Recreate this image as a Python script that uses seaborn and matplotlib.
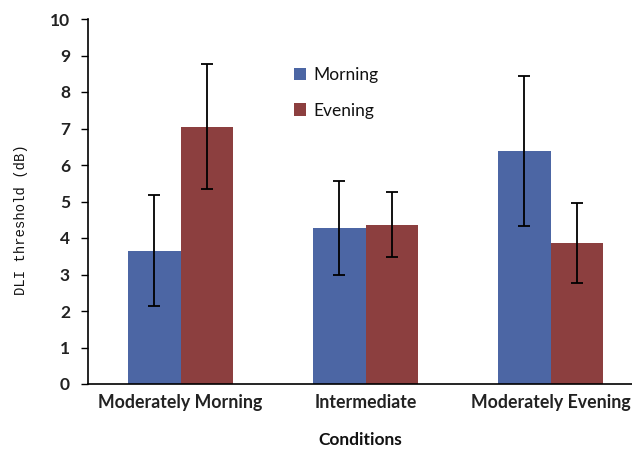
import numpy as np
import pandas as pd
import matplotlib
matplotlib.use("Agg")
import matplotlib.pyplot as plt
import seaborn as sns

# values
conditions = ["Moderately Morning", "Intermediate", "Moderately Evening"]
morning = [3.65, 4.27, 6.38]
evening = [7.05, 4.36, 3.87]
morning_err = [1.52, 1.29, 2.06]
evening_err = [1.71, 0.89, 1.10]

df = pd.DataFrame({
    "Conditions": conditions * 2,
    "DLI": morning + evening,
    "err": morning_err + evening_err,
    "Time": ["Morning"] * 3 + ["Evening"] * 3,
})

sns.set_style("white")
plt.rcParams["font.family"] = ["Lato", "DejaVu Sans"]
fig = plt.figure(figsize=(6.32, 4.49), dpi=100)
ax = fig.add_axes([88 / 632, 65 / 449, 544 / 632, 365 / 449])

palette = {"Morning": "#4C66A4", "Evening": "#8C3F3F"}
sns.barplot(data=df, x="Conditions", y="DLI", hue="Time", palette=palette,
            width=0.57, errorbar=None, saturation=1, linewidth=0, ax=ax)

# error bars at the centres of the bars
for cont, t in zip(ax.containers, ["Morning", "Evening"]):
    sub = df[df["Time"] == t]
    xs = [p.get_x() + p.get_width() / 2 for p in cont.patches]
    ax.errorbar(xs, sub["DLI"].values, yerr=sub["err"].values, fmt="none",
                ecolor="black", elinewidth=1.3, capsize=4.5, capthick=1.3)

ax.set_ylim(0, 10)
ax.set_xlim(-0.5, 2.44)
ax.set_yticks(range(0, 11))
sns.despine(ax=ax)
for s in ["left", "bottom"]:
    ax.spines[s].set_color("black")
    ax.spines[s].set_linewidth(1.2)
ax.tick_params(axis="y", direction="out", length=5, width=1, color="black",
               left=True, labelsize=12.5, pad=8)
ax.tick_params(axis="x", length=0, labelsize=12.8, pad=7)
for lbl in ax.get_yticklabels() + ax.get_xticklabels():
    lbl.set_fontweight("bold")
    lbl.set_color("#222222")

ax.set_ylabel("DLI threshold (dB)", fontfamily="Liberation Mono", fontsize=10,
              color="#111111")
ax.yaxis.set_label_coords(-0.11, 0.45)
ax.set_xlabel("Conditions", fontweight="bold", fontsize=12.5, labelpad=15,
              color="#111111")

leg = ax.legend(title=None, frameon=False, loc="upper left",
                bbox_to_anchor=(0.35, 0.91), fontsize=12.5, handlelength=0.7,
                handleheight=0.7, labelspacing=1.1, handletextpad=0.4)
for t in leg.get_texts():
    t.set_color("#111111")

fig.savefig("out.png", dpi=100)
